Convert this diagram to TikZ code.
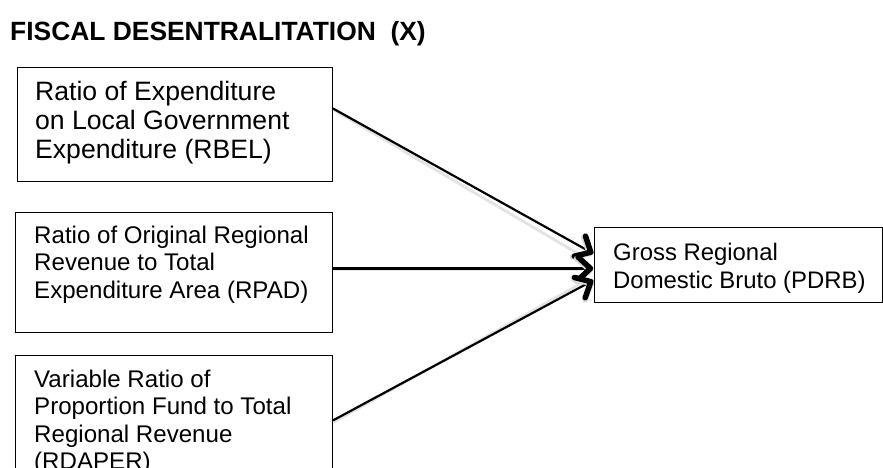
\documentclass[tikz,border=0pt]{standalone}
\usepackage{fontspec}
\setmainfont{Liberation Sans}
\usetikzlibrary{decorations.markings}
\begin{document}
\begin{tikzpicture}[x=1pt,y=-1pt,
  box/.style={draw=black, line width=0.9pt, inner sep=0pt, anchor=north west},
  txt/.style={inner sep=0pt, anchor=north west, align=left},
  conn/.style={line width=2.2pt, postaction={decorate},
    decoration={markings, mark=at position 1 with {
      \draw[draw=black!15, line width=6pt, line cap=round, line join=round] (-16pt,10pt) -- (-3pt,-1.5pt) -- (-16pt,-13pt);
      \draw[line width=5.5pt, line cap=round, line join=round] (-15pt,11.5pt) -- (-2.5pt,0pt) -- (-15pt,-11.5pt);}}},
  shadowline/.style={line width=2.8pt, draw=black!11}
]
\useasboundingbox[fill=white] (0,0) rectangle (883,468);
% title
\node[inner sep=0pt, anchor=base west, font=\fontsize{26.4}{30}\selectfont\bfseries] (title) at (10,40.5) {FISCAL DESENTRALITATION\ \ (X)};
% boxes
\node[box, minimum width=315pt, minimum height=114pt] (rbel) at (17,67) {};
\node[box, minimum width=317pt, minimum height=120pt] (rpad) at (15,212) {};
\node[box, minimum width=317pt, minimum height=130pt] (rdaper) at (15,355) {};
\node[box, minimum width=288pt, minimum height=75pt] (pdrb) at (594,227) {};
% texts
\node[txt, font=\fontsize{26.6}{29}\selectfont] (trbel) at (35,81) {Ratio of Expenditure\\on Local Government\\Expenditure (RBEL)};
\node[txt, font=\fontsize{24.1}{27.5}\selectfont] (trpad) at (34,225.5) {Ratio of Original Regional\\Revenue to Total\\Expenditure Area (RPAD)};
\node[txt, font=\fontsize{24.1}{27.5}\selectfont] (trdaper) at (34,369.5) {Variable Ratio of\\Proportion Fund to Total\\Regional Revenue\\(RDAPER)};
\node[txt, font=\fontsize{23.9}{28}\selectfont] (tpdrb) at (613,242.5) {Gross Regional\\Domestic Bruto (PDRB)};
% shadows
\draw[shadowline] ([xshift=1pt,yshift=14.5pt]rbel.east) -- ([xshift=-12pt,yshift=9pt]pdrb.west);
\draw[shadowline] ([xshift=1pt,yshift=2.5pt]rpad.east) -- ([xshift=-12pt,yshift=-5pt]pdrb.west);
\draw[shadowline] ([xshift=1pt,yshift=-1.5pt]rdaper.east) -- ([xshift=-12pt,yshift=-18pt]pdrb.west);
% connectors
\draw[conn] ([yshift=16pt]rbel.east) -- ([xshift=-1pt,yshift=11.5pt]pdrb.west);
\draw[conn] ([yshift=4pt]rpad.east) -- ([xshift=-1pt,yshift=-3.5pt]pdrb.west);
\draw[conn] (rdaper.east) -- ([xshift=-1pt,yshift=-15.5pt]pdrb.west);
\end{tikzpicture}
\end{document}
